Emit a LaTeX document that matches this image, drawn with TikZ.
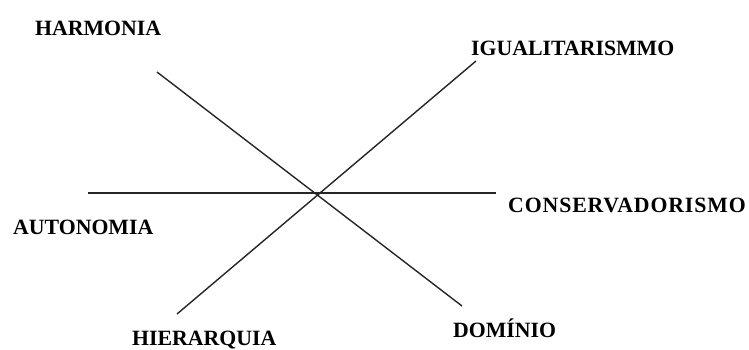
\documentclass[tikz,border=0pt]{standalone}
\usepackage{fontspec}
\setmainfont{Liberation Serif}

\begin{document}
\begin{tikzpicture}[
        x=1pt, y=-1pt,
        inner sep=0pt,
        lbl/.style={anchor=base west,font=\bfseries\fontsize{21.8}{24}\selectfont},
        axis/.style={line width=1.4pt,draw=black!85}
      ]
      \useasboundingbox (0,0) rectangle (749,349);
      \coordinate (dl1) at (157,72);
      \coordinate (dl2) at (462,306);
      \coordinate (dr1) at (177,314);
      \coordinate (dr2) at (476,61);
      \coordinate (hl) at (88,193);
      \coordinate (hr) at (496,193);
      \draw [axis] (dl1) -- (dl2);
      \draw [axis] (dr1) -- (dr2);
      \draw [axis,line width=1.8pt] (hl) -- (hr);
      \node (harmonia) [lbl] at (35,35) {HARMONIA};
      \node (igual) [lbl] at (471,55) {IGUALITARISMMO};
      \node (conserv) [lbl] at (508,212) {\addfontfeature{LetterSpace=4}CONSERVADORISMO};
      \node (autonomia) [lbl] at (13,234) {AUTONOMIA};
      \node (hierarquia) [lbl] at (132,345) {HIERARQUIA};
      \node (dominio) [lbl] at (453,337) {DOMÍNIO};
    \end{tikzpicture}
\end{document}
